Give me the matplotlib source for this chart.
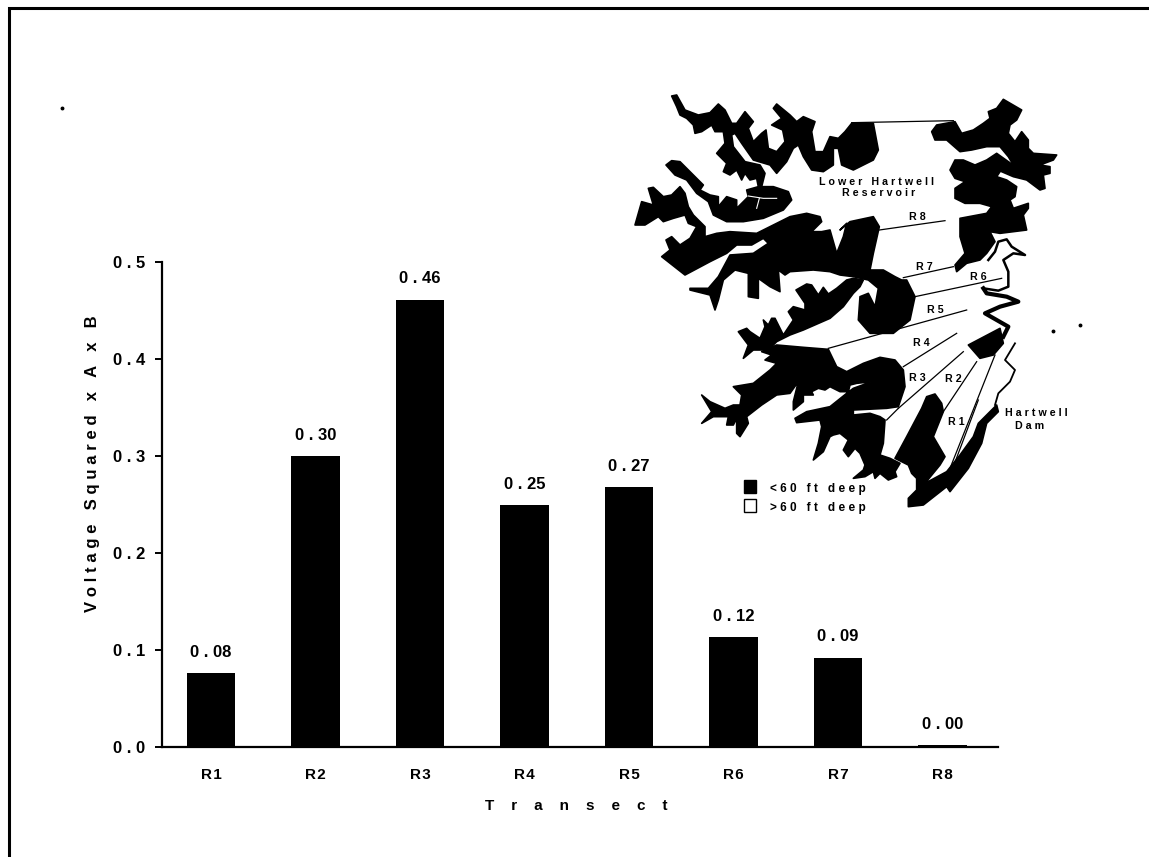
import matplotlib
matplotlib.use("Agg")
import matplotlib.pyplot as plt
from matplotlib.patches import Polygon, Rectangle

plt.rcParams['font.family'] = ['Liberation Sans', 'DejaVu Sans']
plt.rcParams['font.weight'] = 'bold'
plt.rcParams['axes.labelweight'] = 'bold'

W, H = 1149, 857

# Chart data
transects = ["R1", "R2", "R3", "R4", "R5", "R6", "R7", "R8"]
values = [0.076, 0.300, 0.461, 0.2495, 0.268, 0.113, 0.092, 0.002]
value_labels = ["0 . 08", "0 . 30", "0 . 46", "0 . 25", "0 . 27", "0 . 12", "0 . 09", "0 . 00"]
y_ticks = [0.0, 0.1, 0.2, 0.3, 0.4, 0.5]
y_tick_labels = ["0 . 0", "0 . 1", "0 . 2", "0 . 3", "0 . 4", "0 . 5"]


def crop(origin, points):
    return [(origin[0] + x / 3, origin[1] + y / 3) for x, y in points]


A = (630, 90)
B = (840, 90)
C = (690, 270)
D = (840, 340)
Z = (620, 80)

north_arm = crop(A, [(125,18),(140,15),(165,60),(205,75),(240,68),(265,42),(285,60),(305,100),(320,100),(345,65),
    (370,95),(355,115),(370,155),(395,130),(408,120),(415,175),(440,185),(465,155),(458,120),(425,105),(455,85),
    (430,55),(440,42),(480,75),(500,95),(520,80),(555,95),(545,125),(555,185),(580,185),(600,140),(625,145),
    (645,125),(665,100),(730,100),(745,180),(730,210),(670,240),(635,225),(625,175),(610,175),(610,225),(580,245),
    (545,240),(520,200),(505,165),(490,175),(470,215),(440,250),(420,225),(370,210),(335,160),(315,130),(305,135),
    (310,170),(345,215),(390,225),(405,250),(395,290),(430,290),(475,305),(485,330),(460,360),(400,385),(340,395),
    (290,395),(250,375),(235,335),(200,310),(170,270),(135,255),(108,225),(125,212),(150,215),(175,240),(200,265),
    (220,285),(210,300),(240,315),(265,320),(265,350),(290,320),(320,330),(320,355),(345,330),(355,320),(350,300),
    (385,290),(380,265),(360,270),(345,250),(335,270),(320,240),(300,255),(280,245),(290,220),(260,190),(285,160),
    (280,125),(255,125),(245,105),(215,125),(195,130),(190,105),(170,85),(150,75),(140,50)])
veins = [crop(A, [(355,318),(400,325),(440,325)]), crop(A, [(388,325),(380,355)])]

middle_body = (
    crop(A, [(35,335),(70,345),(55,295),(70,292),(100,320),(125,315),(150,290),(165,310),(175,350),(190,375),(225,410),
        (225,440),(260,430),(300,425),(380,430),(430,405),(480,380),(530,370),(570,380),(575,395),(545,425),(575,425),
        (600,420),(620,490),(640,440),(650,400)])
    + crop(B, [(0,420),(30,395),(100,380),(118,410),(100,490),(90,540),(130,540),(165,560),(185,570)])
    + crop(Z, [(860,600),(885,650),(870,720),(820,760),(750,760),(715,720),(720,650),(745,640),(765,680),(775,625),(745,600),(700,590)])
    + crop(C, [(450,15),(420,5),(370,0),(300,5),(285,15),(265,0),(270,65),(240,50),(205,25),(205,85),(175,80),(175,10),
        (135,0),(100,30),(85,90),(75,120),(60,75),(0,60),(0,55),(55,55),(85,20)])
    + crop(A, [(300,495),(370,490),(415,460),(400,445),(365,465),(320,465),(290,490),(240,515),(165,555),(95,500),(120,480),
        (108,450),(125,440),(150,465),(180,445),(200,410),(175,400),(165,375),(130,385),(100,395),(85,380),(45,405),(15,405)])
)
middle_arm = crop(C, [(260,215),(300,195),(340,180),(420,145),(460,110),(490,70),(510,50),(520,30),(490,25),(470,30),
    (440,55),(415,72),(400,52),(385,75),(365,45),(350,42),(318,60),(345,100),(345,120),(310,110),(295,125),(310,150),
    (280,195),(255,145),(245,145),(235,165),(220,150),(225,170),(210,205),(180,185),(170,175),(145,185),(175,225),
    (160,265),(190,240),(240,240),(250,225)])
south_body = (
    crop(C, [(260,225),(340,232),(415,238),(440,290),(470,305),(520,280),(570,262),(615,270),(640,300),(645,350),(625,410),
        (590,415),(490,420),(490,435),(540,430),(570,440),(585,450)])
    + crop(D, [(135,240),(130,310),(120,345),(150,355),(180,370),(165,395),(170,410),(145,420),(120,400),(105,415),(100,395),
        (75,410),(40,415),(70,390),(75,375),(60,340),(45,325),(25,350),(10,330),(25,300),(0,280)])
    + crop(C, [(430,495),(420,500),(400,545),(370,570),(385,520),(395,470),(390,450),(320,458),(315,445),(350,425),(420,410),
        (470,370),(490,355),(545,335),(500,340),(480,345),(475,365),(450,365),(420,350),(405,360),(385,355),(365,365),
        (370,375),(340,375),(340,395),(310,420),(310,395),(325,335),(300,370),(260,375),(215,405),(170,440),(175,460),
        (150,500),(140,490),(140,445),(130,465),(110,465),(115,440),(70,440),(35,460),(65,425),(35,375),(60,395),(105,415),
        (130,405),(150,405),(155,375),(130,350),(190,340),(215,320),(240,300),(260,280),(225,270),(245,255),(215,245)])
)
dam_body = crop(D, [(285,162),(305,190),(310,215),(280,290),(315,350),(300,375),(255,430),(320,395),(360,345),(400,290),
    (415,250),(470,195),(475,215),(440,250),(425,310),(385,385),(330,455),(320,440),(250,495),(205,500),(205,475),
    (230,450),(230,415),(215,400),(205,375),(165,355),(200,290),(245,205),(260,170)])
east_top = crop(B, [(275,125),(290,105),(345,95),(365,130),(400,120),(430,100),(450,85),(445,65),(470,55),(490,28),
    (545,60),(530,90),(510,105),(505,130),(525,155),(545,125),(565,150),(565,175),(580,190),(650,195),(640,210),
    (600,225),(630,230),(630,250),(610,255),(615,295),(600,300),(560,270),(520,260),(485,245),(470,230),(520,225),
    (505,200),(480,170),(440,170),(395,180),(360,185),(320,150),(285,150)])
east_mid = crop(B, [(330,240),(345,210),(370,210),(405,225),(440,210),(470,190),(505,215),(520,225),(480,245),(470,260),
    (500,270),(530,290),(525,320),(510,330),(520,355),(565,340),(565,355),(550,375),(560,420),(520,425),(480,430),
    (450,425),(465,455),(440,490),(420,510),(380,520),(350,545),(345,525),(375,490),(360,440),(360,385),(440,370),
    (455,350),(420,340),(375,340),(345,325),(345,295),(375,275),(345,265)])
dam_lobe = crop(Z, [(1045,795),(1140,745),(1150,790),(1120,825),(1080,835)])
river_thick = crop(Z, [(1150,770),(1165,740),(1130,720),(1095,700),(1140,680),(1195,665),(1160,650),(1100,640),(1090,625)])
river_thin = crop(Z, [(1090,625),(1135,632),(1165,620),(1165,575),(1150,540),(1180,520),(1215,525),(1175,500),(1160,478),(1135,485),(1125,515),(1105,540)])
shore = crop(D, [(525,10),(495,60),(525,90),(510,125),(475,160),(465,195)])
map_shapes = [north_arm, middle_body, middle_arm, south_body, dam_body, east_top, east_mid, dam_lobe]

leaders = [[(695,128),(1000,122)], [(778,450),(975,422)], [(850,593),(1000,560)], [(885,650),(1145,595)],
    [(625,805),(1040,690)], [(850,860),(1010,760)], [(835,985),(1030,815)], [(970,995),(1070,845)],
    [(990,1165),(1125,825)], [(1000,1160),(1075,960)], [(800,1020),(835,985)]]
map_labels = [("Lower Hartwell", 770, 305), ("Reservoir", 775, 340), ("R8", 893, 412), ("R7", 912, 562),
    ("R6", 1075, 590), ("R5", 945, 690), ("R4", 905, 790), ("R3", 893, 895), ("R2", 1000, 897),
    ("R1", 1010, 1027), ("Hartwell", 1250, 1000), ("Dam", 1230, 1037)]


def spaced(s, fill="\u2009\u200a"):
    # the scan has wide letter spacing
    return fill.join(s)


fig = plt.figure(figsize=(W / 100, H / 100), dpi=100)

# Bars
ax = fig.add_axes([162 / W, 1 - 747 / H, (998 - 162) / W, 485 / H])
positions = list(range(len(transects)))
bars = ax.bar(positions, values, width=0.46, color="black")
ax.set_xlim(-49 / 104.5, (998 - 211) / 104.5)
ax.set_ylim(0, 0.5)
for spine in ["top", "right"]:
    ax.spines[spine].set_visible(False)
for spine in ["left", "bottom"]:
    ax.spines[spine].set_linewidth(1.6)
ax.set_xticks(positions)
ax.set_xticklabels([spaced(t, "\u200a") for t in transects], fontsize=11)
ax.tick_params(axis="x", length=0, pad=15)
ax.set_yticks(y_ticks)
ax.set_yticklabels(y_tick_labels, fontsize=12)
ax.tick_params(axis="y", length=5, width=1.4, pad=7)
for bar, label in zip(bars, value_labels):
    ax.annotate(label, (bar.get_x() + bar.get_width() / 2, bar.get_height()),
                xytext=(0, 15), textcoords="offset points",
                ha="center", va="center", fontsize=12)
ax.set_ylabel(spaced("Voltage Squared x A x B"), fontsize=12)
ax.yaxis.set_label_coords((100 - 162) / (998 - 162), 0.585)
ax.set_xlabel("    ".join("Transect"), fontsize=11)
ax.xaxis.set_label_coords((576 - 162) / (998 - 162), (747 - 799) / 485)

# Overlay in pixel coords: page border and the map inset
ov = fig.add_axes([0, 0, 1, 1])
ov.set_xlim(0, W)
ov.set_ylim(H, 0)
ov.axis("off")
ov.patch.set_alpha(0)
ov.plot([1149, 9, 9], [8, 8, 857], color="black", lw=2.2, solid_joinstyle="miter")
ov.plot([62, 1053, 1080], [108, 331, 325], ls="none", marker="o", ms=1.8, color="black")

for shape in map_shapes:
    ov.add_patch(Polygon(shape, closed=True, fc="black", ec="black", lw=1.2, joinstyle="round"))
for path, lw, col in [(river_thick, 3.0, "black"), (river_thin, 1.8, "black"), (shore, 1.3, "black"),
                      (veins[0], 0.8, "white"), (veins[1], 0.8, "white")]:
    xs, ys = zip(*path)
    ov.plot(xs, ys, color=col, lw=lw, solid_joinstyle="round")
for line in leaders:
    xs, ys = zip(*crop(Z, line))
    ov.plot(xs, ys, color="black", lw=0.9)
for text, x, y in map_labels:
    px, py = crop(Z, [(x, y)])[0]
    ov.text(px, py, spaced(text), ha="center", va="center", fontsize=7.7)

# Map legend
ov.add_patch(Rectangle((744, 480), 12, 13, fc="black", ec="black", lw=1))
ov.add_patch(Rectangle((744, 499), 12, 13, fc="white", ec="black", lw=1))
ov.text(770, 489, spaced("<60 ft deep"), ha="left", va="center", fontsize=8.5)
ov.text(770, 508, spaced(">60 ft deep"), ha="left", va="center", fontsize=8.5)

fig.savefig("out.png", dpi=100)
